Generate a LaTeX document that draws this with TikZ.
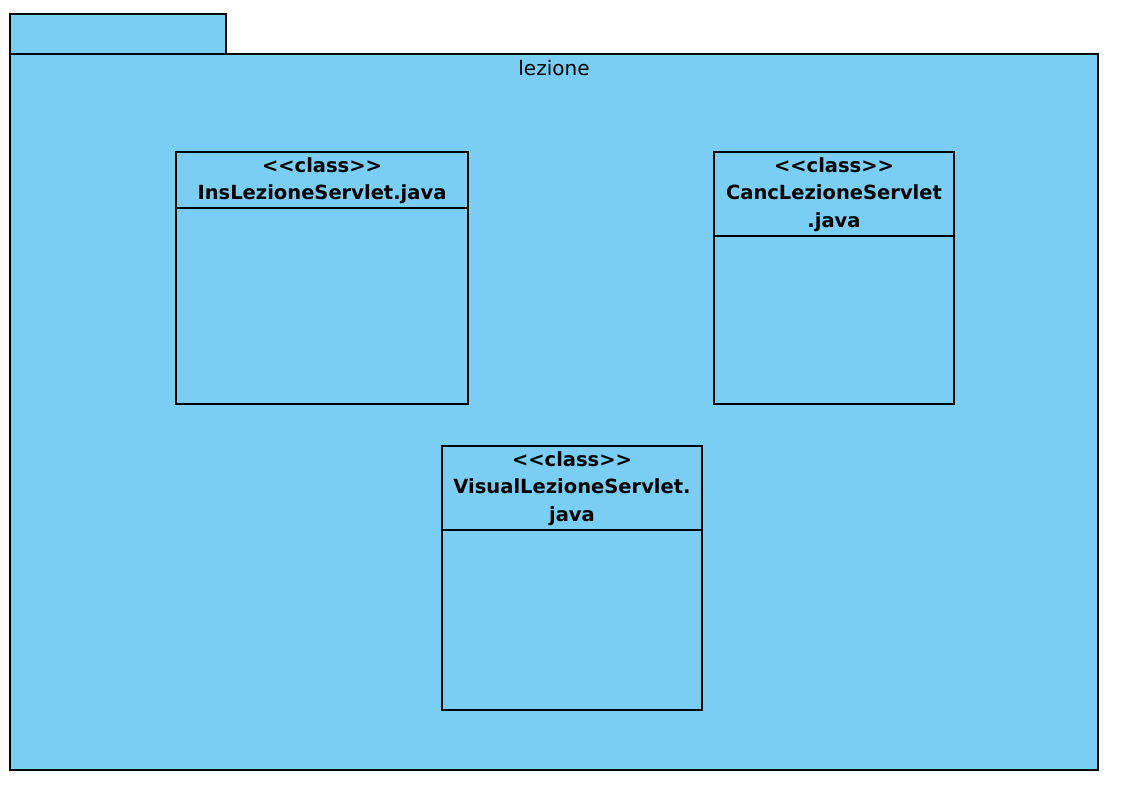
\documentclass[tikz,border=0pt]{standalone}
\usepackage{fontspec}
\setmainfont{DejaVu Sans}
\definecolor{pkgblue}{HTML}{7ACEF4}
\tikzset{
  pkgshape/.style={draw=black, fill=pkgblue, line width=2pt, inner sep=0pt, outer sep=0pt},
  classbox/.style={draw=black, fill=pkgblue, line width=1.6pt, inner sep=0pt, outer sep=0pt},
  classtitle/.style={font=\fontsize{19.5}{27.8}\selectfont\bfseries, align=center, anchor=north, inner sep=0pt},
  sepline/.style={draw=black, line width=1.6pt},
}
\newcommand{\stereo}[1]{{<}{<}#1{>}{>}}
\begin{document}
\begin{tikzpicture}[x=1pt,y=-1pt]
\useasboundingbox (0,0) rectangle (1122,798);
% package tab and body
\node[pkgshape, minimum width=216, minimum height=40, anchor=north west] (tab) at (10,14) {};
\node[pkgshape, minimum width=1088, minimum height=716, anchor=north west] (pkg) at (10,54) {};
\node[font=\fontsize{20}{24}\selectfont, anchor=north, inner sep=0pt] (pkgname) at (554,60) {lezione};

% InsLezioneServlet
\node[classbox, minimum width=292, minimum height=252, anchor=north west] (ins) at (176,152) {};
\draw[sepline] ([yshift=-56pt]ins.north west) -- ([yshift=-56pt]ins.north east);
\node[classtitle] (insname) at ([yshift=-5pt]ins.north) {\stereo{class}\\InsLezioneServlet.java};

% CancLezioneServlet
\node[classbox, minimum width=240, minimum height=252, anchor=north west] (canc) at (714,152) {};
\draw[sepline] ([yshift=-84pt]canc.north west) -- ([yshift=-84pt]canc.north east);
\node[classtitle] (cancname) at ([yshift=-5pt]canc.north) {\stereo{class}\\CancLezioneServlet\\.java};

% VisualLezioneServlet
\node[classbox, minimum width=260, minimum height=264, anchor=north west] (vis) at (442,446) {};
\draw[sepline] ([yshift=-84pt]vis.north west) -- ([yshift=-84pt]vis.north east);
\node[classtitle] (visname) at ([yshift=-5pt]vis.north) {\stereo{class}\\VisualLezioneServlet.\\java};
\end{tikzpicture}
\end{document}
